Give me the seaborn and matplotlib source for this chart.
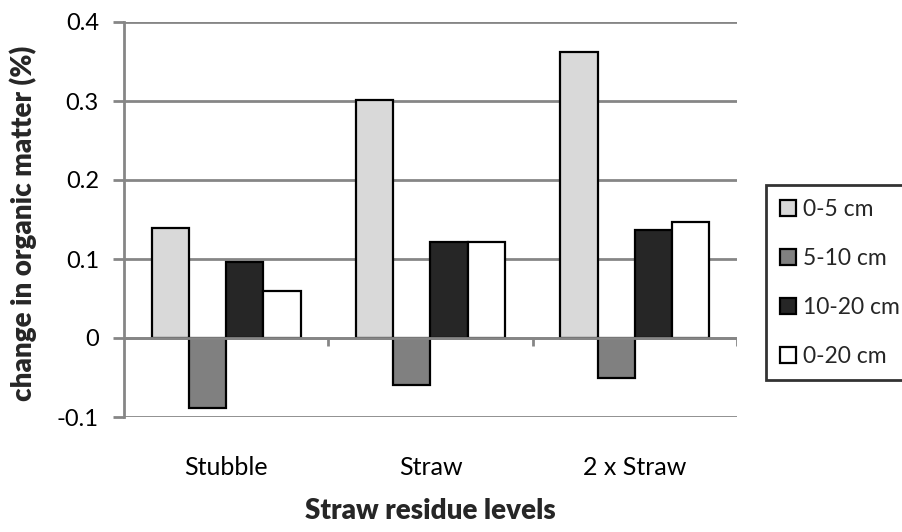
import matplotlib
matplotlib.use("Agg")
import matplotlib.pyplot as plt
import seaborn as sns
import pandas as pd

categories = ["Stubble", "Straw", "2 x Straw"]
depths = ["0-5 cm", "5-10 cm", "10-20 cm", "0-20 cm"]
vals_0_5 = [0.139, 0.301, 0.362]
vals_5_10 = [-0.089, -0.059, -0.051]
vals_10_20 = [0.096, 0.121, 0.137]
vals_0_20 = [0.060, 0.121, 0.147]
colors = ["#D9D9D9", "#808080", "#262626", "#FFFFFF"]
yticks = [-0.1, 0, 0.1, 0.2, 0.3, 0.4]
ytick_labels = ["-0.1", "0", "0.1", "0.2", "0.3", "0.4"]

rows = []
for d, vals in zip(depths, [vals_0_5, vals_5_10, vals_10_20, vals_0_20]):
    for c, v in zip(categories, vals):
        rows.append({"cat": c, "depth": d, "val": v})
df = pd.DataFrame(rows)

sns.set_theme(style="white")
plt.rcParams["font.family"] = ["Lato", "DejaVu Sans"]

fig = plt.figure(figsize=(9.03, 5.32), dpi=100)
ax = fig.add_axes([124 / 903, 1 - 417 / 532, (737 - 124) / 903, (417 - 22) / 532])

grid_c = "#868686"
sns.barplot(data=df, x="cat", y="val", hue="depth", order=categories,
            hue_order=depths, palette=colors, width=0.728, gap=0,
            edgecolor="black", linewidth=1.6, saturation=1, ax=ax,
            legend=True, zorder=3)

ax.set_xlim(-0.5, 2.5)
ax.set_ylim(-0.1, 0.4)
ax.set_yticks(yticks)
ax.set_yticklabels(ytick_labels)
ax.yaxis.grid(True, color=grid_c, linewidth=2)
ax.set_axisbelow(True)

for s in ["top", "right", "bottom"]:
    ax.spines[s].set_visible(False)
ax.spines["left"].set_color(grid_c)
ax.spines["left"].set_linewidth(2)
ax.spines["left"].set_zorder(5)

ax.axhline(0, color=grid_c, linewidth=2, zorder=4)
ax.vlines([0.5, 1.5, 2.5], -0.0105, 0, color=grid_c, linewidth=2, zorder=4)

ax.tick_params(axis="y", which="major", length=8, width=2, color=grid_c,
               labelsize=17, pad=10, labelcolor="black", left=True)
ax.tick_params(axis="x", which="major", length=0, labelsize=18, pad=28,
               labelcolor="black")

ax.set_xlabel("Straw residue levels", fontsize=20, fontweight="heavy")
ax.set_ylabel("change in organic matter (%)", fontsize=20, fontweight="heavy")
ax.xaxis.set_label_coords(0.5, -0.205)
ax.yaxis.set_label_coords(-0.142, 0.489)

handles, labels = ax.get_legend_handles_labels()
leg = ax.legend(handles, labels, loc="upper left",
                bbox_to_anchor=(766 / 903, 1 - 185 / 532),
                bbox_transform=fig.transFigure, frameon=True, fancybox=False,
                edgecolor="black", fontsize=16.5, handlelength=0.7,
                handleheight=0.7, handletextpad=0.3, labelspacing=1.22,
                borderpad=0.6, borderaxespad=0)
leg.get_frame().set_linewidth(2)

fig.savefig("out.png", dpi=100)
